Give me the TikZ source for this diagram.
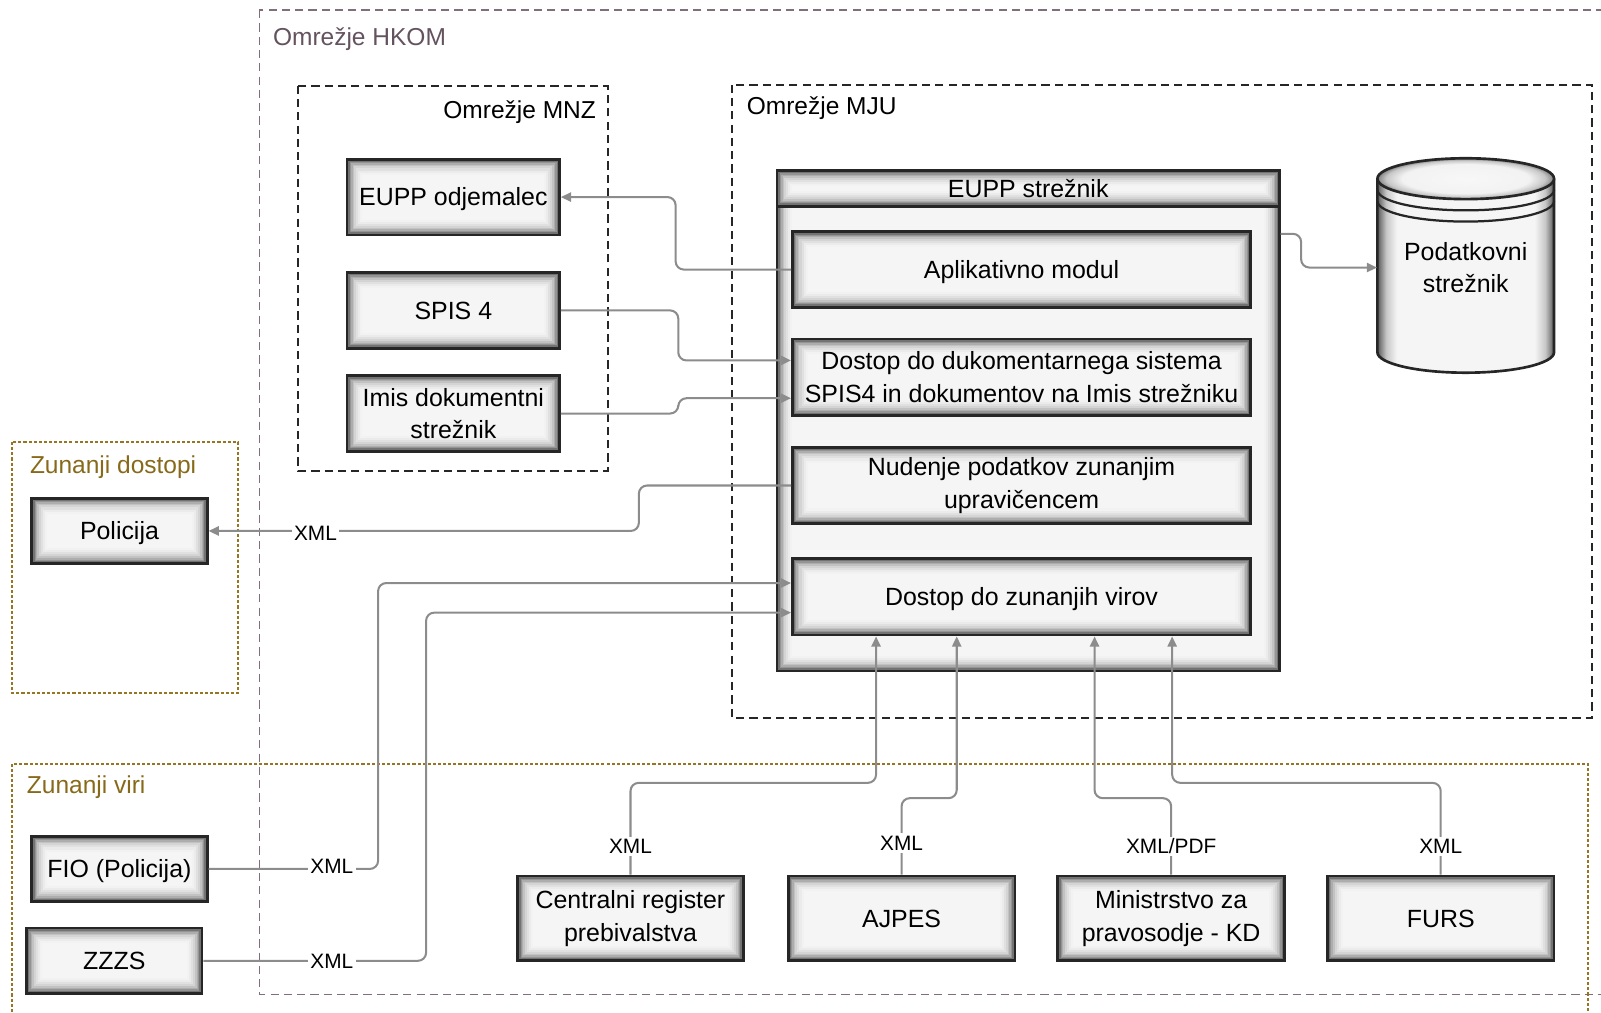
\documentclass[tikz,border=0pt]{standalone}
\usepackage{fontspec}
\setmainfont{Liberation Sans}
\usetikzlibrary{arrows.meta,calc}
\definecolor{hkom}{RGB}{128,110,122}
\definecolor{hkomtxt}{RGB}{100,82,95}
\definecolor{goldline}{RGB}{150,118,35}
\definecolor{goldtxt}{RGB}{135,105,25}
\definecolor{connc}{RGB}{140,140,140}
\pgfdeclarehorizontalshading{cylbody}{100bp}{color(0bp)=(black!65); color(25bp)=(black!65); color(27.5bp)=(black!22); color(30.5bp)=(black!4); color(69.5bp)=(black!4); color(72.5bp)=(black!22); color(75bp)=(black!65); color(100bp)=(black!65)}
\pgfdeclareradialshading{ellsh}{\pgfpoint{0bp}{0bp}}{color(0bp)=(black!3); color(18bp)=(black!5); color(22.5bp)=(black!22); color(25bp)=(black!50); color(50bp)=(black!50)}
\newcommand{\mainsz}{\fontsize{12.2}{16}\selectfont}
\begin{document}
\begin{tikzpicture}[x=0.5pt,y=-0.5pt,
  box/.style={draw=black!85, line width=1.3pt, fill=black!4, inner sep=0pt, align=center, font=\mainsz,
    path picture={
      \foreach \w/\c in {15pt/5,13pt/8,11pt/12,9pt/17,7pt/24,5.5pt/32,4pt/42,2.8pt/55}{
        \draw[line width=\w, black!\c] (path picture bounding box.south west) rectangle (path picture bounding box.north east);}
    }},
  onel/.style={text height=8.7pt, text depth=0pt},
  conn/.style={draw=connc, line width=1pt, rounded corners=4pt, -{Triangle[length=5pt,width=4.5pt]}},
  lbl/.style={fill=white, inner sep=1.2pt, font=\fontsize{10.2}{12}\selectfont, text height=7.3pt, text depth=0pt},
  hkombox/.style={draw=hkom, line width=0.8pt, dash pattern=on 4pt off 2.5pt},
  netbox/.style={draw=black!85, line width=1pt, dash pattern=on 4pt off 2.5pt},
  goldbox/.style={draw=goldline, line width=1pt, dash pattern=on 1.5pt off 1pt},
  grp/.style={font=\fontsize{12}{14}\selectfont, inner sep=0pt, text height=8.6pt, text depth=0pt}
]
\useasboundingbox (0,0) rectangle (1568,992);

% containers
\draw[hkombox] (254,10) rectangle (1580,974);
\draw[netbox] (292,84) rectangle (595,461);
\draw[netbox] (717,83) rectangle (1559,703);
\draw[goldbox] (12,433) rectangle (233,679);
\draw[goldbox] (12,748) rectangle (1555,1005);

\node[grp, text=hkomtxt, anchor=west] (thkom) at (267,36) {Omrežje HKOM};
\node[grp, anchor=east] (tmnz) at (584,107) {Omrežje MNZ};
\node[grp, anchor=west] (tmju) at (731,104) {Omrežje MJU};
\node[grp, text=goldtxt, anchor=west] (tzd) at (29,455) {Zunanji dostopi};
\node[grp, text=goldtxt, anchor=west] (tzv) at (26,769) {Zunanji viri};

% MNZ boxes
\node[box, onel, minimum width=104pt, minimum height=37pt] (odj) at (444,193) {EUPP odjemalec};
\node[box, onel, minimum width=104pt, minimum height=37pt] (spis) at (444,304) {SPIS 4};
\node[box, minimum width=104pt, minimum height=37pt] (imis) at (444,405) {Imis dokumentni\\strežnik};

% EUPP server
\node[box, minimum width=246pt, minimum height=245pt] (srv) at (1007,412) {};
\node[box, onel, minimum width=246pt, minimum height=17.5pt] (srvh) at (1007,184.5) {EUPP strežnik};
\node[box, onel, minimum width=224.5pt, minimum height=37pt] (app) at (1000.5,264) {Aplikativno modul};
\node[box, minimum width=224.5pt, minimum height=37.5pt] (dost) at (1000.5,369.5) {Dostop do dukomentarnega sistema\\SPIS4 in dokumentov na Imis strežniku};
\node[box, minimum width=224.5pt, minimum height=37.5pt] (nud) at (1000.5,475.5) {Nudenje podatkov zunanjim\\upravičencem};
\node[box, onel, minimum width=224.5pt, minimum height=37.5pt] (zun) at (1000.5,584.5) {Dostop do zunanjih virov};

% database cylinder
\shade[shading=cylbody] (1349,175) -- (1349,345) arc[start angle=180,end angle=0,x radius=86.5,y radius=20] -- (1522,175) arc[start angle=0,end angle=180,x radius=86.5,y radius=20] -- cycle;
\draw[black!85, line width=1.3pt] (1349,175) -- (1349,345) arc[start angle=180,end angle=0,x radius=86.5,y radius=20] -- (1522,175);
\path[draw=black!85, line width=1.3pt, shading=ellsh] (1435.5,175) ellipse [x radius=86.5, y radius=20];
\draw[black!85, line width=1.1pt] (1349,186) arc[start angle=180,end angle=0,x radius=86.5,y radius=20];
\draw[black!85, line width=1.1pt] (1349,197) arc[start angle=180,end angle=0,x radius=86.5,y radius=20];
\node[inner sep=0pt, minimum width=86.5pt, minimum height=100pt, align=center, font=\mainsz] (db) at (1435.5,262) {Podatkovni\\strežnik};

% external
\node[box, onel, minimum width=86pt, minimum height=32pt] (pol) at (117,520) {Policija};
\node[box, onel, minimum width=86pt, minimum height=32pt] (fio) at (117,851) {FIO (Policija)};
\node[box, onel, minimum width=86pt, minimum height=32pt] (zzzs) at (112,941) {ZZZS};
\node[box, minimum width=110.5pt, minimum height=41.5pt] (crp) at (617.5,899.5) {Centralni register\\prebivalstva};
\node[box, onel, minimum width=111pt, minimum height=41.5pt] (ajp) at (883,899.5) {AJPES};
\node[box, minimum width=111pt, minimum height=41.5pt] (min) at (1147,899.5) {Ministrstvo za\\pravosodje - KD};
\node[box, onel, minimum width=111pt, minimum height=41.5pt] (furs) at (1411,899.5) {FURS};

% connectors
\draw[conn] (app.west) -- ++(-113,0) |- (odj.east);
\draw[conn] (spis.east) -- ++(115,0) |- ([yshift=8.25pt]dost.west);
\draw[conn] (imis.east) -- ++(115,0) |- ([yshift=-10.25pt]dost.west);
\draw[conn] ([yshift=91.5pt]srv.east) -- ++(20,0) |- (db.west);
\draw[conn] (nud.west) -- ++(-149,0) |- (pol.east);
\draw[conn] (fio.east) -- ++(166,0) |- ([yshift=6.75pt]zun.west);
\draw[conn] (zzzs.east) -- ++(218,0) |- ([yshift=-7.75pt]zun.west);
\draw[conn] (crp.north) -- ++(0,-90) -| ([xshift=-71.25pt]zun.south);
\draw[conn] (ajp.north) -- ++(0,-75) -| ([xshift=-31.75pt]zun.south);
\draw[conn] (min.north) -- ++(0,-75) -| ([xshift=35.75pt]zun.south);
\draw[conn] (furs.north) -- ++(0,-90) -| ([xshift=73.75pt]zun.south);

% labels
\node[lbl] (lpol) at (309,522) {XML};
\node[lbl] (lfio) at (325,848) {XML};
\node[lbl] (lzz) at (325,941) {XML};
\node[lbl] (lcrp) at (617.5,829) {XML};
\node[lbl] (lajp) at (883,826) {XML};
\node[lbl] (lmin) at (1147,829) {XML/PDF};
\node[lbl] (lfurs) at (1411,829) {XML};
\end{tikzpicture}
\end{document}
